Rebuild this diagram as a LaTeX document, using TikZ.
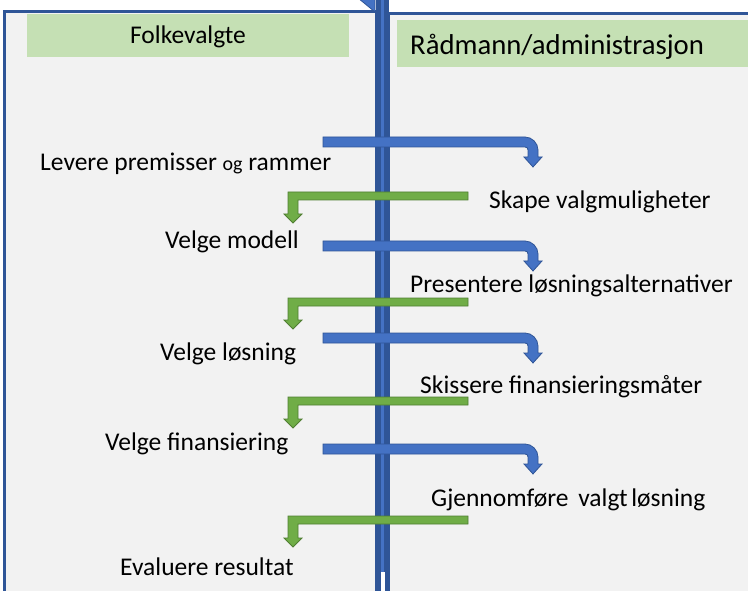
\documentclass[tikz,border=0pt]{standalone}
\usepackage{fontspec}
\setmainfont{Carlito}
\definecolor{panelgray}{HTML}{F2F2F2}
\definecolor{darkblue}{HTML}{2F5597}
\definecolor{midblue}{HTML}{4472C4}
\definecolor{headgreen}{HTML}{C5E0B4}
\definecolor{arrowgreen}{HTML}{70AD47}
\definecolor{darkgreen}{HTML}{507E32}
\tikzset{
  panel/.style = {fill=panelgray, draw=darkblue, line width=3pt},
  header/.style = {fill=headgreen, draw=none},
  bluearrow/.style = {fill=midblue, draw=darkblue, line width=0.8pt, line join=miter},
  greenarrow/.style = {fill=arrowgreen, draw=darkgreen, line width=0.8pt, line join=miter},
  lbl/.style = {inner sep=0pt, anchor=base west, font=\fontsize{25.5}{28}\selectfont},
}
\begin{document}
\begin{tikzpicture}[x=1pt, y=-1pt]
    \useasboundingbox (0, 0) rectangle (748, 591);
    \fill[white] (0, 0) rectangle (748, 591);
    % panels
    \draw[panel] (4.5, 11.5) rectangle (376, 600);
    \draw[panel] (388, 13.5) rectangle (760, 600);
    \fill[header] (27, 14) rectangle (349, 57);
    \fill[header] (397, 20) rectangle (748, 67);
    \node[inner sep=0pt, font=\fontsize{25.5}{28}\selectfont] (folk) at (188, 37) {Folkevalgte};
    \node[lbl, font=\fontsize{28.7}{32}\selectfont] (raad) at (410, 55) {Rådmann/administrasjon};
    % middle bar
    \filldraw[fill=midblue, draw=darkblue, line width=0.8pt] (358, -2) -- (375, 12) -- (375, -2) -- cycle;
    \filldraw[fill=midblue, draw=darkblue, line width=4.5pt] (378.5, -5) rectangle (386.5, 600);
    \fill[white] (381, 572) rectangle (385, 595);
    % arrows to the right
    \foreach \t in {137, 241, 333, 444} {
        \filldraw[bluearrow] (323, \t) -- (525, \t)
            .. controls (532, \t) and (538, \t+6) .. (538, \t+13)
            -- (538, \t+20) -- (542, \t+20) -- (533, \t+30) -- (524, \t+20) -- (528, \t+20) -- (528, \t+13)
            .. controls (528, \t+11) and (527, \t+10) .. (525, \t+10)
            -- (323, \t+10) -- cycle;
    }
    % arrows to the left
    \foreach \g in {192, 298, 397, 516} {
        \filldraw[greenarrow] (468, \g) -- (288, \g) -- (288, \g+22) -- (284, \g+22) -- (293, \g+31)
            -- (302, \g+22) -- (298, \g+22) -- (298, \g+8) -- (468, \g+8) -- cycle;
    }
    % labels
    \node[lbl] (levere) at (40, 171) {Levere premisser {\fontsize{20}{22}\selectfont og} rammer};
    \node[lbl] (skape) at (489, 209) {Skape valgmuligheter};
    \node[lbl] (modell) at (165, 249) {Velge modell};
    \node[lbl] (present) at (410, 292) {Presentere løsningsalternativer};
    \node[lbl] (losning) at (160, 360) {Velge løsning};
    \node[lbl] (skisse) at (420, 393) {Skissere finansieringsmåter};
    \node[lbl] (finans) at (105, 450) {Velge finansiering};
    \node[lbl] (gjennom) at (431, 506) {Gjennomføre\hspace{4pt} valgt\hspace{-2pt} løsning};
    \node[lbl] (evaluer) at (120, 575) {Evaluere resultat};
\end{tikzpicture}
\end{document}
